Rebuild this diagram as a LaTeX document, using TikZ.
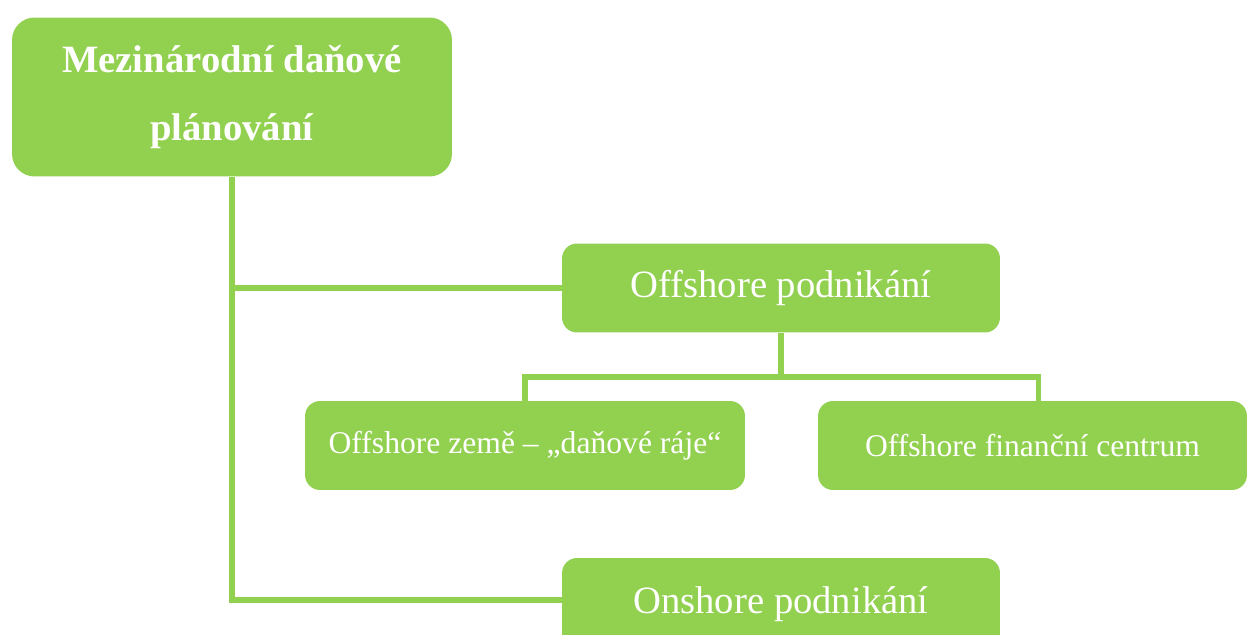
\documentclass[tikz,border=0pt]{standalone}
\usepackage{fontspec}
\setmainfont{Liberation Serif}
\definecolor{planGreen}{RGB}{146,208,80}

\begin{document}
\begin{tikzpicture}[x=0.02cm, y=-0.02cm]
				\tikzstyle{every node}=[inner sep=0pt, align=center, text=white, fill=planGreen]
				\tikzstyle{bigbox}=[rounded corners=0.45cm, minimum width=8.8cm, font=\fontsize{22}{39}\selectfont]
				\tikzstyle{smallbox}=[rounded corners=0.3cm, minimum height=1.78cm, font=\fontsize{18}{22}\selectfont]
				\tikzstyle{link}=[draw=planGreen, line width=3pt]
				\useasboundingbox (0,0) rectangle (1247,635);
				\clip (0,0) rectangle (1247,635);
				\node[bigbox, minimum height=3.18cm] (planning) at (232,97) {\textbf{Mezinárodní daňové}\\\textbf{plánování}};
				\node[smallbox, minimum width=8.76cm, font=\fontsize{22}{26}\selectfont] (offshore) at (781,288) {Offshore podnikání};
				\node[smallbox, minimum width=8.8cm] (havens) at (525,445.5) {Offshore země – „daňové ráje“};
				\node[smallbox, minimum width=8.58cm] (centre) at (1032.5,445.5) {Offshore finanční centrum};
				\node[smallbox, minimum width=8.76cm, minimum height=1.84cm, font=\fontsize{22}{26}\selectfont] (onshore) at (781,604) {Onshore podnikání};
				\coordinate (split) at (781,377);
				\draw [link] (planning.south) |- ([yshift=0.08cm]onshore.west);
				\draw [link] (planning.south |- offshore.west) -- (offshore.west);
				\draw [link] (offshore.south) -- (split);
				\draw [link] (havens.north) |- (split) -| ([xshift=0.12cm]centre.north);
		\end{tikzpicture}
\end{document}
